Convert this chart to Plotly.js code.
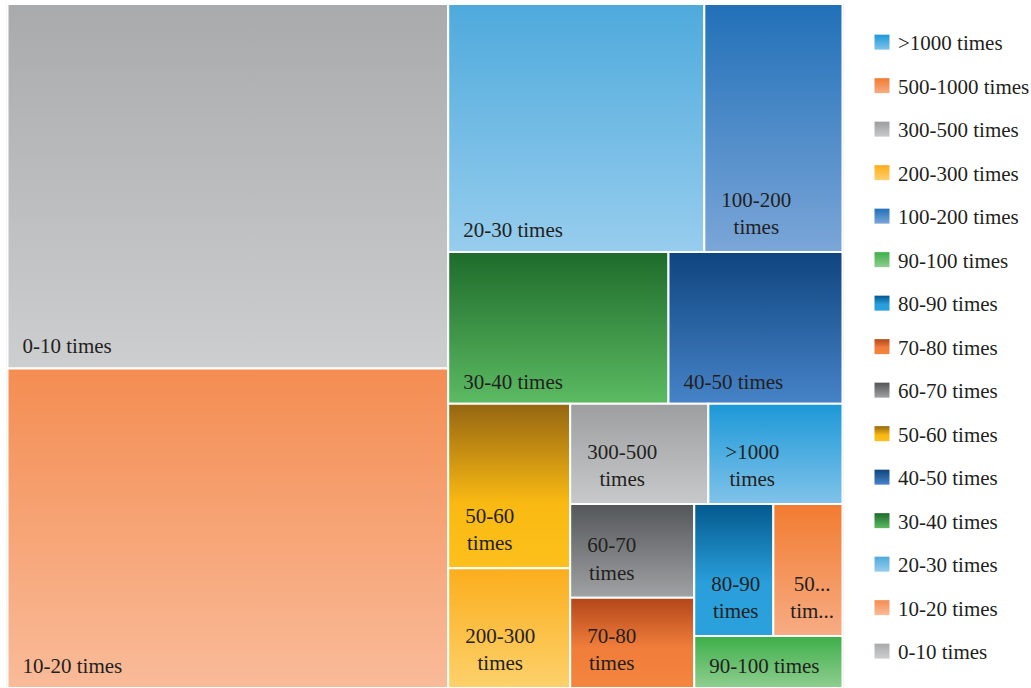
<!DOCTYPE html>
<html>
<head>
<meta charset="utf-8">
<script src="https://cdn.plot.ly/plotly-3.0.1.min.js"></script>
<style>
  html, body { margin: 0; padding: 0; background: #ffffff; }
  #chart { width: 1031px; height: 688px; }
</style>
</head>
<body>
<div id="chart"></div>
<script>
// Share of records in each frequency band (percent of total)
const categories = [
  '0-10 times', '10-20 times', '20-30 times', '30-40 times', '40-50 times',
  '50-60 times', '60-70 times', '70-80 times', '80-90 times', '90-100 times',
  '100-200 times', '200-300 times', '300-500 times', '500-1000 times', '>1000 times'
];
const shares = [
  28.13, 24.66, 11.12, 5.86, 4.63,
  3.51, 2.04, 1.96, 1.83, 1.35,
  6.00, 2.56, 2.42, 1.60, 2.35
];
// Text shown inside each tile (wrapped / shortened for narrow tiles)
const tileText = [
  '0-10 times', '10-20 times', '20-30 times', '30-40 times', '40-50 times',
  '50-60<br>times', '60-70<br>times', '70-80<br>times', '80-90<br>times', '90-100 times',
  '100-200<br>times', '200-300<br>times', '300-500<br>times', '50...<br>tim...', '>1000<br>times'
];
// Order of entries in the legend
const legendOrder = [
  '>1000 times', '500-1000 times', '300-500 times', '200-300 times', '100-200 times',
  '90-100 times', '80-90 times', '70-80 times', '60-70 times', '50-60 times',
  '40-50 times', '30-40 times', '20-30 times', '10-20 times', '0-10 times'
];

// Vertical shading for each band: [offset, colour] stops, top to bottom
const shading = {
  '0-10 times':     [[0, '#a8aaab'], [1, '#cdcecf']],
  '10-20 times':    [[0, '#f48d52'], [1, '#f9bb99']],
  '20-30 times':    [[0, '#4eaadc'], [1, '#97cdee']],
  '30-40 times':    [[0, '#1e6b2b'], [1, '#5cbb62']],
  '40-50 times':    [[0, '#0f457f'], [1, '#4683c8']],
  '50-60 times':    [[0, '#956612'], [0.6, '#f9b912'], [1, '#fdc01c']],
  '60-70 times':    [[0, '#545759'], [1, '#a0a2a4']],
  '70-80 times':    [[0, '#b2461a'], [0.55, '#f07d3a'], [1, '#f4853f']],
  '80-90 times':    [[0, '#03598d'], [0.6, '#2a9fdb'], [1, '#2ba1dc']],
  '90-100 times':   [[0, '#3daf49'], [1, '#8fce90']],
  '100-200 times':  [[0, '#2170b8'], [1, '#7ba6d8']],
  '200-300 times':  [[0, '#fbae1c'], [1, '#fdd16c']],
  '300-500 times':  [[0, '#9c9ea0'], [1, '#c8c9cb']],
  '500-1000 times': [[0, '#f27b30'], [1, '#f7ac84']],
  '>1000 times':    [[0, '#1c98d7'], [1, '#80c3ea']]
};
const midColour = name => {
  const s = shading[name];
  return s[Math.floor(s.length / 2)][1];
};

const FONT = 'Liberation Serif, Times New Roman, serif';
const INK = '#231f20';
const W = 1031, H = 688;
const x0 = 7.5, x1 = 842.5, yTop = 4;

const treemap = {
  type: 'treemap',
  labels: categories,
  parents: categories.map(() => ''),
  values: shares,
  text: tileText,
  texttemplate: '%{text}',
  textposition: 'bottom left',
  sort: true,
  tiling: { packing: 'squarify', squarifyratio: 1, pad: 0 },
  marker: {
    colors: categories.map(midColour),
    line: { color: '#ffffff', width: 2 },
    pad: { t: 0, l: 0, r: 0, b: 0 }
  },
  pathbar: { visible: false },
  textfont: { family: FONT, size: 21, color: INK },
  insidetextfont: { family: FONT, size: 21, color: INK },
  hoverinfo: 'none',
  showlegend: false,
  domain: { x: [x0 / W, x1 / W], y: [0, 1 - yTop / H] }
};

const legendTraces = legendOrder.map(name => ({
  type: 'scatter',
  mode: 'markers',
  x: [null], y: [null],
  name: name,
  legendgroup: name,
  showlegend: true,
  hoverinfo: 'skip',
  marker: { symbol: 'square', size: 15, color: midColour(name), line: { width: 0 } }
}));

const layout = {
  width: W, height: H,
  margin: { l: 0, r: 0, t: 0, b: 0, autoexpand: false },
  paper_bgcolor: '#ffffff',
  plot_bgcolor: '#ffffff',
  showlegend: true,
  legend: {
    x: 858 / W, xanchor: 'left',
    y: 1 - 22 / H, yanchor: 'top',
    font: { family: FONT, size: 21, color: INK },
    tracegroupgap: 13.2,
    bgcolor: 'rgba(0,0,0,0)',
    borderwidth: 0
  },
  uniformtext: { minsize: 21, mode: 'show' },
  xaxis: { visible: false, fixedrange: true },
  yaxis: { visible: false, fixedrange: true },
  shapes: [{
    type: 'rect', xref: 'paper', yref: 'paper',
    x0: (x0 - 0.5) / W, x1: (x1 + 0.5) / W,
    y0: -1 / H, y1: 1 - (yTop - 0.5) / H,
    line: { color: '#d4d4d4', width: 1 },
    fillcolor: 'rgba(0,0,0,0)',
    layer: 'below'
  }]
};

const gd = document.getElementById('chart');

// Replace flat fills with vertical gradients on tiles and legend swatches,
// and give tile labels some breathing room from the tile corner.
function applyShading() {
  const NS = 'http://www.w3.org/2000/svg';
  const svg = gd.querySelector('svg.main-svg');
  let defs = svg.querySelector('defs');
  if (!defs) { defs = document.createElementNS(NS, 'defs'); svg.insertBefore(defs, svg.firstChild); }
  categories.forEach((name, i) => {
    const lg = document.createElementNS(NS, 'linearGradient');
    lg.setAttribute('id', 'shade' + i);
    lg.setAttribute('x1', '0'); lg.setAttribute('y1', '0');
    lg.setAttribute('x2', '0'); lg.setAttribute('y2', '1');
    shading[name].forEach(([off, col]) => {
      const st = document.createElementNS(NS, 'stop');
      st.setAttribute('offset', off);
      st.setAttribute('stop-color', col);
      lg.appendChild(st);
    });
    defs.appendChild(lg);
  });
  gd.querySelectorAll('g.slice').forEach(g => {
    const p = g.querySelector('path.surface');
    if (p) {
      const d = p.__data__;
      const id = d && d.data ? d.data.id : null;
      const idx = categories.indexOf(id);
      if (idx >= 0) p.style.fill = 'url(#shade' + idx + ')';
    }
    const t = g.querySelector('text.slicetext');
    if (!t) return;
    const lines = t.querySelectorAll('tspan.line');
    let dx = 12, dy = -7;
    if (lines.length > 1) {
      // centre the wrapped lines on each other
      const bb = t.getBBox();
      const cx = bb.x + bb.width / 2;
      t.setAttribute('text-anchor', 'middle');
      t.style.textAnchor = 'middle';
      lines.forEach(ts => ts.setAttribute('x', cx));
      dx = 14; dy = -10;
    }
    const tr = t.getAttribute('transform') || '';
    t.setAttribute('transform', 'translate(' + dx + ',' + dy + ') ' + tr);
  });
  gd.querySelectorAll('g.legend g.traces').forEach(g => {
    const d = g.__data__;
    const name = d && d[0] && d[0].trace ? d[0].trace.name : null;
    const idx = categories.indexOf(name);
    // swatch sits a little closer to its text
    g.querySelectorAll('g.legendpoints').forEach(lp => lp.setAttribute('transform', 'translate(4,0)'));
    if (idx >= 0) g.querySelectorAll('path.scatterpts').forEach(p => { p.style.fill = 'url(#shade' + idx + ')'; });
  });
}

Plotly.newPlot(gd, [treemap].concat(legendTraces), layout, { staticPlot: true, displayModeBar: false })
  .then(applyShading);
</script>
</body>
</html>
